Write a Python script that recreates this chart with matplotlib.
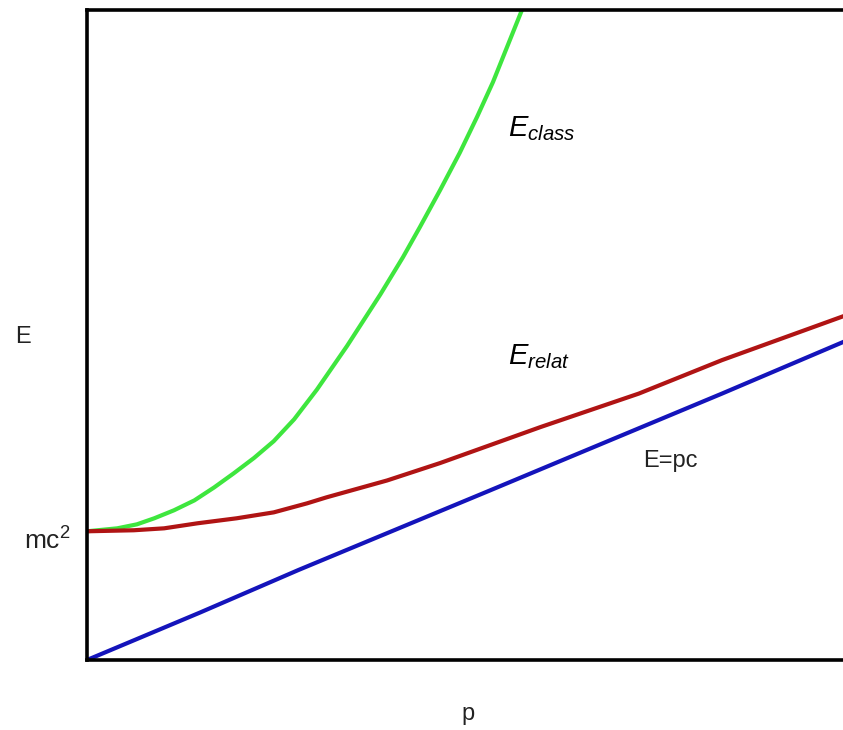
import matplotlib.pyplot as plt
from matplotlib.transforms import ScaledTranslation

plt.rcParams['font.family'] = ['Liberation Sans', 'DejaVu Sans']
plt.rcParams['mathtext.fontset'] = 'custom'
plt.rcParams['mathtext.rm'] = 'Liberation Sans'
plt.rcParams['mathtext.it'] = 'Liberation Sans:italic'

# momentum p (0..1) and energy E in units of mc^2
p_pc = [0, 0.15, 0.28, 0.53, 0.64, 0.84, 1.0]
E_pc = [0, 0.37, 0.70, 1.31, 1.58, 2.07, 2.47]

p_relat = [0, 0.062, 0.102, 0.146, 0.198, 0.247, 0.291, 0.317, 0.397, 0.467,
           0.60, 0.73, 0.84, 1.0]
E_relat = [1.0, 1.008, 1.023, 1.062, 1.101, 1.147, 1.217, 1.264, 1.395, 1.53,
           1.81, 2.07, 2.33, 2.67]

p_class = [0, 0.040, 0.066, 0.089, 0.115, 0.142, 0.168, 0.194, 0.221, 0.247,
           0.274, 0.304, 0.344, 0.388, 0.418, 0.440, 0.467, 0.493, 0.516,
           0.537, 0.576]
E_class = [1.0, 1.023, 1.054, 1.101, 1.163, 1.240, 1.34, 1.45, 1.57, 1.70,
           1.87, 2.10, 2.44, 2.84, 3.13, 3.36, 3.65, 3.94, 4.22,
           4.49, 5.06]

E_rest = 1.0
rest_label = r'$\mathrm{mc}^2$'

txt = '#222222'

fig = plt.figure(figsize=(8.43, 7.30), dpi=100)
ax = fig.add_axes([87 / 843, 70 / 730, 756 / 843, 650 / 730])

ax.plot(p_class, E_class, color='#3ee63e', lw=3)
ax.plot(p_relat, E_relat, color='#b01414', lw=3)
ax.plot(p_pc, E_pc, color='#1414bb', lw=3)

ax.set_xlim(0, 1)
ax.set_ylim(0, 5.05)
ax.spines['right'].set_visible(False)
for s in ['left', 'bottom', 'top']:
    ax.spines[s].set_linewidth(2.6)

ax.set_xticks([])
ax.set_yticks([E_rest])
ax.set_yticklabels([rest_label])
ax.tick_params(axis='y', length=0, pad=12, labelsize=19, labelcolor=txt)
for lbl in ax.get_yticklabels():
    lbl.set_verticalalignment('baseline')
    lbl.set_transform(lbl.get_transform() + ScaledTranslation(0, -0.18, fig.dpi_scale_trans))

fig.text(15 / 843, 1 - 343 / 730, 'E', ha='left', va='baseline', fontsize=17, color=txt)
fig.text(468 / 843, 1 - 720 / 730, 'p', ha='center', va='baseline', fontsize=17, color=txt)

ax.text(0.735, 1.50, 'E=pc', fontsize=17, color=txt, va='baseline')
ax.text(0.557, 4.07, r'$E_{class}$', fontsize=21, color='black', va='baseline')
ax.text(0.557, 2.30, r'$E_{relat}$', fontsize=21, color='black', va='baseline')

fig.savefig('out.png', dpi=100)
